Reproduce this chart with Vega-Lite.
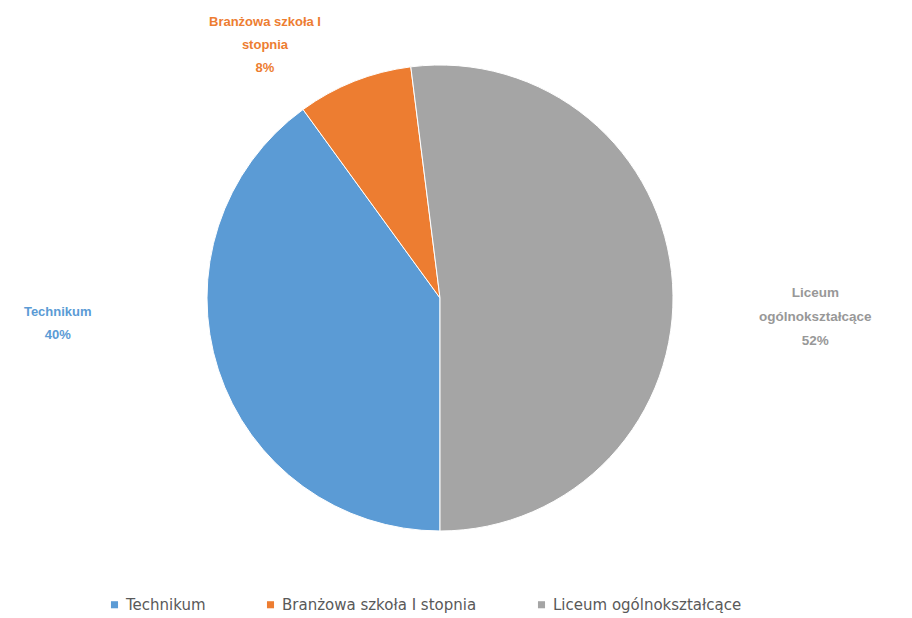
{
  "$schema": "https://vega.github.io/schema/vega-lite/v6.json",
  "width": 880,
  "height": 596,
  "autosize": {"type": "none"},
  "padding": {"left": 0, "top": 0, "right": 32, "bottom": 22},
  "background": "white",
  "data": {
    "values": [
      {"category": "Technikum", "value": 40, "rank": 1, "label": "Technikum\n40%"},
      {"category": "Branżowa szkoła I stopnia", "value": 8, "rank": 2, "label": "Branżowa  szkoła I\nstopnia\n8%"},
      {"category": "Liceum ogólnokształcące", "value": 52, "rank": 3, "label": "Liceum\nogólnokształcące\n52%"}
    ]
  },
  "encoding": {
    "theta": {"field": "value", "type": "quantitative", "stack": true, "scale": {"range": [3.14159265, 9.42477796]}},
    "order": {"field": "rank", "type": "quantitative"},
    "color": {
      "field": "category",
      "type": "nominal",
      "scale": {
        "domain": ["Technikum", "Branżowa szkoła I stopnia", "Liceum ogólnokształcące"],
        "range": ["#5B9BD5", "#ED7D31", "#A5A5A5"]
      },
      "legend": {
        "title": null,
        "orient": "none",
        "direction": "horizontal",
        "legendX": 107,
        "legendY": 597,
        "symbolType": "square",
        "symbolSize": 50,
        "symbolStrokeWidth": 0,
        "labelFont": "DejaVu Sans",
        "labelFontSize": 15,
        "labelColor": "#595959",
        "labelOffset": 4,
        "columnPadding": 57,
        "labelLimit": 400
      }
    }
  },
  "layer": [
    {
      "mark": {"type": "arc", "outerRadius": 233, "stroke": "white", "strokeWidth": 1}
    },
    {
      "mark": {"type": "text", "radius": 383, "dx": -18, "dy": -104, "font": "Liberation Sans", "fontSize": 13, "fontWeight": "bold", "lineBreak": "\n", "lineHeight": 23, "align": "center", "baseline": "middle"},
      "encoding": {
        "text": {"condition": {"test": "datum.category === 'Technikum'", "field": "label"}, "value": ""}
      }
    },
    {
      "mark": {"type": "text", "radius": 307, "dx": -62, "dy": 9, "font": "Liberation Sans", "fontSize": 13, "fontWeight": "bold", "lineBreak": "\n", "lineHeight": 23, "align": "center", "baseline": "middle"},
      "encoding": {
        "text": {"condition": {"test": "datum.category === 'Branżowa szkoła I stopnia'", "field": "label"}, "value": ""}
      }
    },
    {
      "mark": {"type": "text", "radius": 375, "dx": 1, "dy": 19, "font": "Liberation Sans", "fontSize": 13.5, "fontWeight": "bold", "lineBreak": "\n", "lineHeight": 24, "align": "center", "baseline": "middle"},
      "encoding": {
        "text": {"condition": {"test": "datum.category === 'Liceum ogólnokształcące'", "field": "label"}, "value": ""},
        "color": {"value": "#989898"}
      }
    }
  ],
  "config": {"view": {"stroke": null}}
}
